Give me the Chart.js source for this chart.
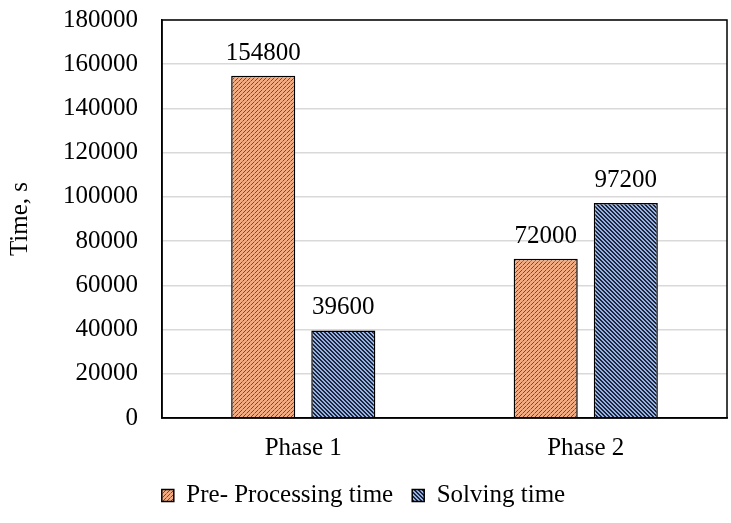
<!DOCTYPE html>
<html>
<head>
<meta charset="utf-8">
<script src="https://cdn.jsdelivr.net/npm/chart.js@4/dist/chart.umd.min.js"></script>
<style>
  html, body { margin: 0; padding: 0; background: #fff; }
  #wrap { width: 731px; height: 523px; }
</style>
</head>
<body>
<div id="wrap"><canvas id="chart" width="731" height="523"></canvas></div>
<script>
const categories = ['Phase 1', 'Phase 2'];
const preProcessing = [154800, 72000];
const solving = [39600, 97200];
const seriesNames = ['Pre- Processing time', 'Solving time'];
const yMax = 180000;
const yStep = 20000;

const serif = "'Liberation Serif', 'Times New Roman', serif";
const fontSize = 25;

// small tile patterns like the Excel fills
function orangePattern() {
    const c = document.createElement('canvas');
    c.width = 4; c.height = 4;
    const g = c.getContext('2d');
    g.fillStyle = '#F4AB82';
    g.fillRect(0, 0, 4, 4);
    g.fillStyle = '#7a4a30';
    g.fillRect(0, 3, 1, 1);
    g.fillRect(1, 2, 1, 1);
    g.fillRect(3, 0, 1, 1);
    g.fillStyle = '#b87450';
    g.fillRect(2, 1, 1, 1);
    return g.createPattern(c, 'repeat');
}

function bluePattern() {
    const c = document.createElement('canvas');
    c.width = 4; c.height = 4;
    const g = c.getContext('2d');
    g.fillStyle = '#93B2E8';
    g.fillRect(0, 0, 4, 4);
    g.fillStyle = '#1f2638';
    for (let i = 0; i < 4; i++) {
        g.fillRect(i, i, 1, 1);
        g.fillRect((i + 1) % 4, i, 1, 1);
    }
    return g.createPattern(c, 'repeat');
}

const ctx = document.getElementById('chart');

const plotBorder = {
    id: 'plotBorder',
    afterDraw(chart) {
        const { ctx, chartArea } = chart;
        ctx.save();
        ctx.strokeStyle = '#000';
        ctx.lineWidth = 1.5;
        ctx.strokeRect(chartArea.left, chartArea.top, chartArea.right - chartArea.left, chartArea.bottom - chartArea.top);
        ctx.restore();
    }
};

const valueLabels = {
    id: 'valueLabels',
    afterDatasetsDraw(chart) {
        const { ctx } = chart;
        ctx.save();
        ctx.font = fontSize + 'px ' + serif;
        ctx.fillStyle = '#000';
        ctx.textAlign = 'center';
        ctx.textBaseline = 'alphabetic';
        chart.data.datasets.forEach((ds, i) => {
            const meta = chart.getDatasetMeta(i);
            meta.data.forEach((bar, j) => {
                ctx.fillText(String(ds.data[j]), bar.x, bar.y - 16);
            });
        });
        ctx.restore();
    }
};

new Chart(ctx, {
    type: 'bar',
    data: {
        labels: categories,
        datasets: [
            {
                label: seriesNames[0],
                data: preProcessing,
                backgroundColor: orangePattern(),
                borderColor: '#000',
                borderWidth: 1.5,
                categoryPercentage: 0.567,
                barPercentage: 0.8
            },
            {
                label: seriesNames[1],
                data: solving,
                backgroundColor: bluePattern(),
                borderColor: '#000',
                borderWidth: 1.5,
                categoryPercentage: 0.567,
                barPercentage: 0.8
            }
        ]
    },
    options: {
        responsive: false,
        animation: false,
        layout: { padding: { top: 0, right: 4, left: 0, bottom: 5 } },
        plugins: {
            tooltip: { enabled: false },
            legend: {
                position: 'bottom',
                labels: {
                    color: '#000',
                    font: { family: serif, size: fontSize },
                    boxWidth: 12,
                    boxHeight: 12,
                    padding: 19
                }
            }
        },
        scales: {
            x: {
                afterFit(scale) { scale.height = 46; },
                grid: { display: false },
                border: { color: '#000', width: 1.5 },
                ticks: { color: '#000', font: { family: serif, size: fontSize }, padding: 7 }
            },
            y: {
                min: 0,
                max: yMax,
                afterFit(scale) {
                    scale.width = 162;
                    scale.paddingTop = 20;
                    scale.paddingBottom = 0;
                },
                grid: { color: '#d9d9d9', lineWidth: 1.5, drawTicks: false },
                border: { color: '#000', width: 1.5 },
                ticks: {
                    stepSize: yStep,
                    color: '#000',
                    font: { family: serif, size: fontSize },
                    padding: 24,
                    callback: v => String(v)
                },
                title: {
                    display: true,
                    text: 'Time, s',
                    color: '#000',
                    font: { family: serif, size: fontSize },
                    padding: { top: 5, bottom: 0 }
                }
            }
        }
    },
    plugins: [plotBorder, valueLabels]
});
</script>
</body>
</html>
